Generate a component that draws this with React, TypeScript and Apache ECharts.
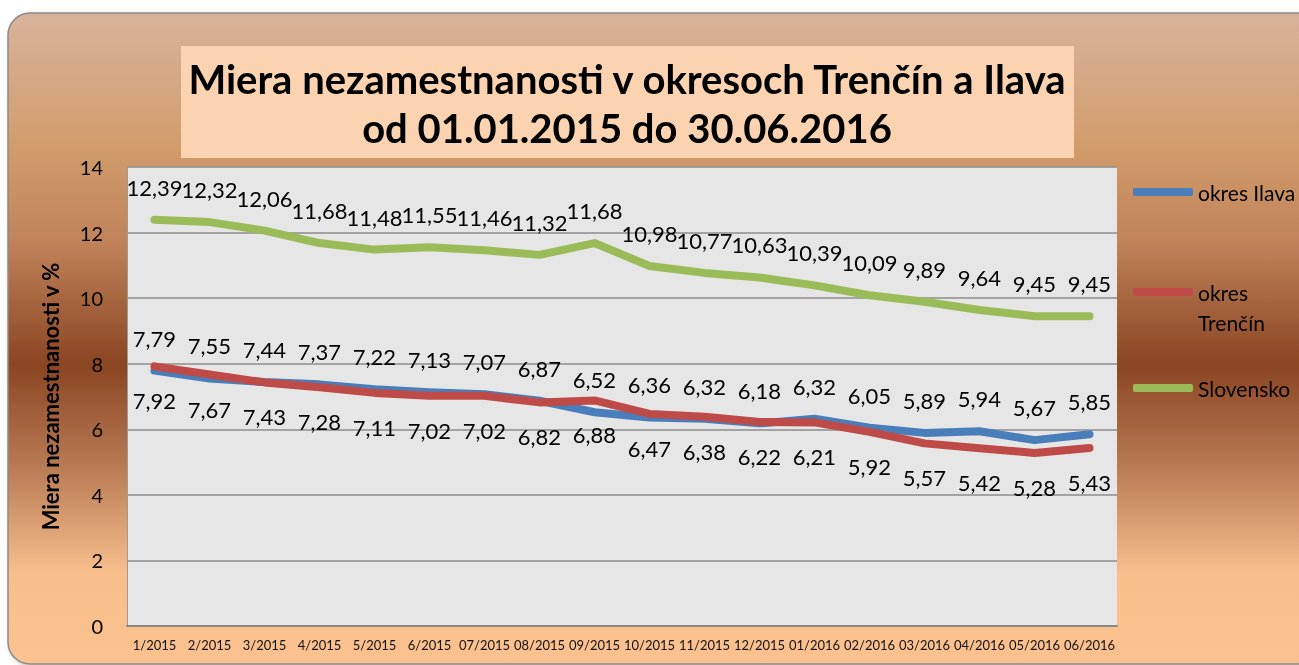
import { useEffect, useRef } from 'react';
import * as echarts from 'echarts';

const months = ['1/2015', '2/2015', '3/2015', '4/2015', '5/2015', '6/2015', '07/2015', '08/2015', '09/2015', '10/2015', '11/2015', '12/2015', '01/2016', '02/2016', '03/2016', '04/2016', '05/2016', '06/2016'];
const ilava = [7.79, 7.55, 7.44, 7.37, 7.22, 7.13, 7.07, 6.87, 6.52, 6.36, 6.32, 6.18, 6.32, 6.05, 5.89, 5.94, 5.67, 5.85];
const trencin = [7.92, 7.67, 7.43, 7.28, 7.11, 7.02, 7.02, 6.82, 6.88, 6.47, 6.38, 6.22, 6.21, 5.92, 5.57, 5.42, 5.28, 5.43];
const slovensko = [12.39, 12.32, 12.06, 11.68, 11.48, 11.55, 11.46, 11.32, 11.68, 10.98, 10.77, 10.63, 10.39, 10.09, 9.89, 9.64, 9.45, 9.45];

const seriesNames = ['okres Ilava', 'okres Trenčín', 'Slovensko'];
const seriesColors = ['#4a7ebb', '#be4b48', '#9bbb59'];
const titleText = 'Miera nezamestnanosti v okresoch Trenčín a Ilava\nod 01.01.2015 do 30.06.2016';
const yAxisName = 'Miera nezamestnanosti v %';

const FONT = 'Lato, "Open Sans", sans-serif';

const fmt = (p: any) => Number(p.value).toFixed(2).replace('.', ',');

export default function App() {
  const ref = useRef<HTMLDivElement>(null);
  useEffect(() => {
    if (!ref.current) return;
    const chart = echarts.init(ref.current, undefined, { renderer: 'svg' });
    const dataSets = [ilava, trencin, slovensko];
    const labelPos = ['top', 'bottom', 'top'];
    const legendTops = [181, 247, 377];
    chart.setOption({
      animation: false,
      textStyle: { fontFamily: FONT },
      title: {
        text: titleText,
        left: 627,
        top: 54,
        padding: 0,
        textAlign: 'center',
        textStyle: { fontFamily: FONT, fontSize: 40, fontWeight: 'bold', color: '#000', lineHeight: 49 },
      },
      graphic: {
        elements: [
          {
            type: 'rect',
            z: -100,
            shape: { x: 8, y: 13, width: 1320, height: 651, r: 22 },
            style: {
              fill: new echarts.graphic.LinearGradient(0, 0, 0, 1, [
                { offset: 0, color: '#d8b39c' },
                { offset: 0.2, color: '#d29d6c' },
                { offset: 0.35, color: '#c0835a' },
                { offset: 0.54, color: '#8a4522' },
                { offset: 0.7, color: '#b97c55' },
                { offset: 0.86, color: '#f8be8c' },
                { offset: 1, color: '#fbc28f' },
              ]),
              stroke: '#8a8a8a',
              lineWidth: 1.5,
              shadowBlur: 4,
              shadowColor: 'rgba(0,0,0,0.25)',
              shadowOffsetX: 2,
              shadowOffsetY: 2,
            },
          },
          {
            type: 'rect',
            z: -50,
            shape: { x: 181, y: 46, width: 893, height: 112 },
            style: { fill: '#fbd3b1' },
          },
        ],
      },
      legend: seriesNames.map((n, i) => ({
        data: [n],
        left: 1133,
        top: legendTops[i],
        padding: 0,
        orient: 'vertical',
        selectedMode: false,
        itemWidth: 60,
        itemHeight: 8,
        icon: 'roundRect',
        itemGap: 4,
        formatter: (name: string) => (name === 'okres Trenčín' ? ' \nokres\nTrenčín' : name),
        textStyle: i === 1
          ? { fontFamily: FONT, fontSize: 21, color: '#000', lineHeight: 30 }
          : { fontFamily: FONT, fontSize: 21, color: '#000', lineHeight: 22 },
      })),
      grid: {
        left: 127,
        top: 167,
        right: 182,
        bottom: 39,
        show: true,
        backgroundColor: '#e6e6e6',
        borderWidth: 0,
        containLabel: false,
      },
      xAxis: {
        type: 'category',
        data: months,
        boundaryGap: true,
        axisLine: { show: true, lineStyle: { color: '#878787', width: 2 } },
        axisTick: { show: false },
        axisLabel: { interval: 0, fontFamily: FONT, fontSize: 13, color: '#111', margin: 12 },
      },
      yAxis: {
        type: 'value',
        min: 0,
        max: 14,
        interval: 2,
        name: yAxisName,
        nameLocation: 'middle',
        nameRotate: 90,
        nameGap: 66,
        nameTextStyle: { fontFamily: FONT, fontSize: 22, fontWeight: 'bold', color: '#000' },
        axisLine: { show: true, lineStyle: { color: '#9a9a9a', width: 1 } },
        axisTick: { show: false },
        axisLabel: { fontFamily: FONT, fontSize: 20, color: '#000', margin: 24 },
        splitLine: { show: true, lineStyle: { color: '#8c8c8c', width: 1.5 } },
      },
      series: seriesNames.map((n, i) => ({
        name: n,
        type: 'line',
        data: dataSets[i],
        color: seriesColors[i],
        symbol: 'circle',
        symbolSize: 1,
        showSymbol: true,
        lineStyle: { width: 8, color: seriesColors[i], cap: 'round', join: 'round' },
        itemStyle: { color: seriesColors[i] },
        label: {
          show: true,
          position: labelPos[i],
          distance: labelPos[i] === 'top' ? 21 : 23,
          formatter: fmt,
          fontFamily: FONT,
          fontSize: 22,
          color: '#000',
        },
        labelLayout: { hideOverlap: false },
        emphasis: { disabled: true },
        z: 2 + i,
      })),
    });
    return () => chart.dispose();
  }, []);
  return <div ref={ref} style={{ position: 'fixed', left: 0, top: 0, width: 1299, height: 665 }} />;
}
